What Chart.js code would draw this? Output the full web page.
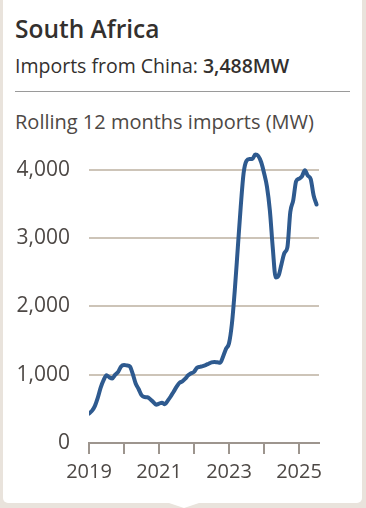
<!DOCTYPE html>
<html>
<head>
<meta charset="utf-8">
<script src="https://cdn.jsdelivr.net/npm/chart.js@4"></script>
<style>
  html, body { margin: 0; padding: 0; }
  body { width: 366px; height: 508px; background: #e9e3dc; position: relative; overflow: hidden; font-family: "Open Sans", sans-serif; color: #33302e; }
  .card { position: absolute; left: 3px; top: -6px; width: 359px; height: 509px; background: #fff; border-radius: 5px; }
  .card:after { content: ""; position: absolute; left: 166px; bottom: -5px; border-left: 15px solid transparent; border-right: 15px solid transparent; border-top: 5px solid #fff; }
  .titulo { position: absolute; left: 12px; top: 18px; font-size: 24.5px; font-weight: 600; }
  .sub { position: absolute; left: 12px; top: 58px; font-size: 19.5px; }
  .sub b { font-weight: 600; }
  .linea { position: absolute; left: 12px; top: 97px; width: 335px; height: 1px; background: #9a9a9a; }
  .rotulo { position: absolute; left: 12px; top: 114px; font-size: 20px; color: #4d4845; }
  #grafico { position: absolute; left: 0; top: 114px; }
</style>
</head>
<body>
<div class="card">
  <div class="titulo">South Africa</div>
  <div class="sub">Imports from China: <b>3,488MW</b></div>
  <div class="linea"></div>
  <div class="rotulo">Rolling 12 months imports (MW)</div>
</div>
<canvas id="grafico" width="366" height="376"></canvas>
<script>
// Serie mensual desde enero 2019 hasta julio 2025
const anioInicio = 2019;
const importaciones = [
  430, 470, 540, 660, 810, 920, 990, 960, 945, 1000, 1040, 1120,
  1140, 1135, 1120, 1010, 870, 790, 700, 672, 668, 640, 600, 560,
  575, 590, 565, 620, 680, 750, 820, 880, 900, 940, 990, 1020,
  1040, 1100, 1114, 1125, 1140, 1160, 1180, 1185, 1180, 1175, 1270, 1380,
  1460, 1750, 2250, 2850, 3450, 3950, 4130, 4155, 4155, 4220, 4200, 4110,
  3950, 3750, 3400, 2850, 2420, 2450, 2620, 2780, 2860, 3380, 3550, 3830,
  3865, 3900, 3990, 3910, 3860, 3620, 3488
];
const marcasY = [0, 1000, 2000, 3000, 4000];

let puntos = importaciones.map((v, i) => ({ x: anioInicio + i / 12, y: v }));

let grafico = document.getElementById('grafico').getContext('2d');

let diagrama = new Chart(grafico, {
  type: 'line',
  data: {
    datasets: [{
      data: puntos,
      borderColor: '#2e5a8f',
      borderWidth: 4,
      pointRadius: 0,
      tension: 0.4,
      cubicInterpolationMode: 'monotone',
      borderCapStyle: 'round',
      borderJoinStyle: 'round'
    }]
  },
  options: {
    responsive: false,
    animation: false,
    layout: { padding: { top: 5, right: 47, left: 0, bottom: 0 } },
    plugins: { legend: { display: false }, tooltip: { enabled: false } },
    scales: {
      x: {
        type: 'linear',
        min: 2019,
        max: 2025.57,
        afterFit: s => { s.height = 47; },
        grid: { drawOnChartArea: false, drawTicks: true, tickLength: 11, color: '#9d958e', lineWidth: 2 },
        border: { display: true, color: '#9d958e', width: 2 },
        ticks: {
          stepSize: 1,
          includeBounds: false,
          autoSkip: false,
          maxRotation: 0,
          padding: 6,
          color: '#4d4845',
          font: { family: 'Open Sans', size: 20 },
          callback: v => (v % 2 === 1 ? String(v) : '')
        }
      },
      y: {
        min: 0,
        max: 4350,
        afterFit: s => { s.width = 89; },
        afterBuildTicks: s => { s.ticks = marcasY.map(v => ({ value: v })); },
        grid: { drawTicks: false, color: '#cdc4b8', lineWidth: 2 },
        border: { display: false },
        ticks: {
          padding: 19,
          color: '#4d4845',
          font: { family: 'Open Sans', size: 21 },
          callback: v => v.toLocaleString('en-US')
        }
      }
    }
  }
});
</script>
</body>
</html>
